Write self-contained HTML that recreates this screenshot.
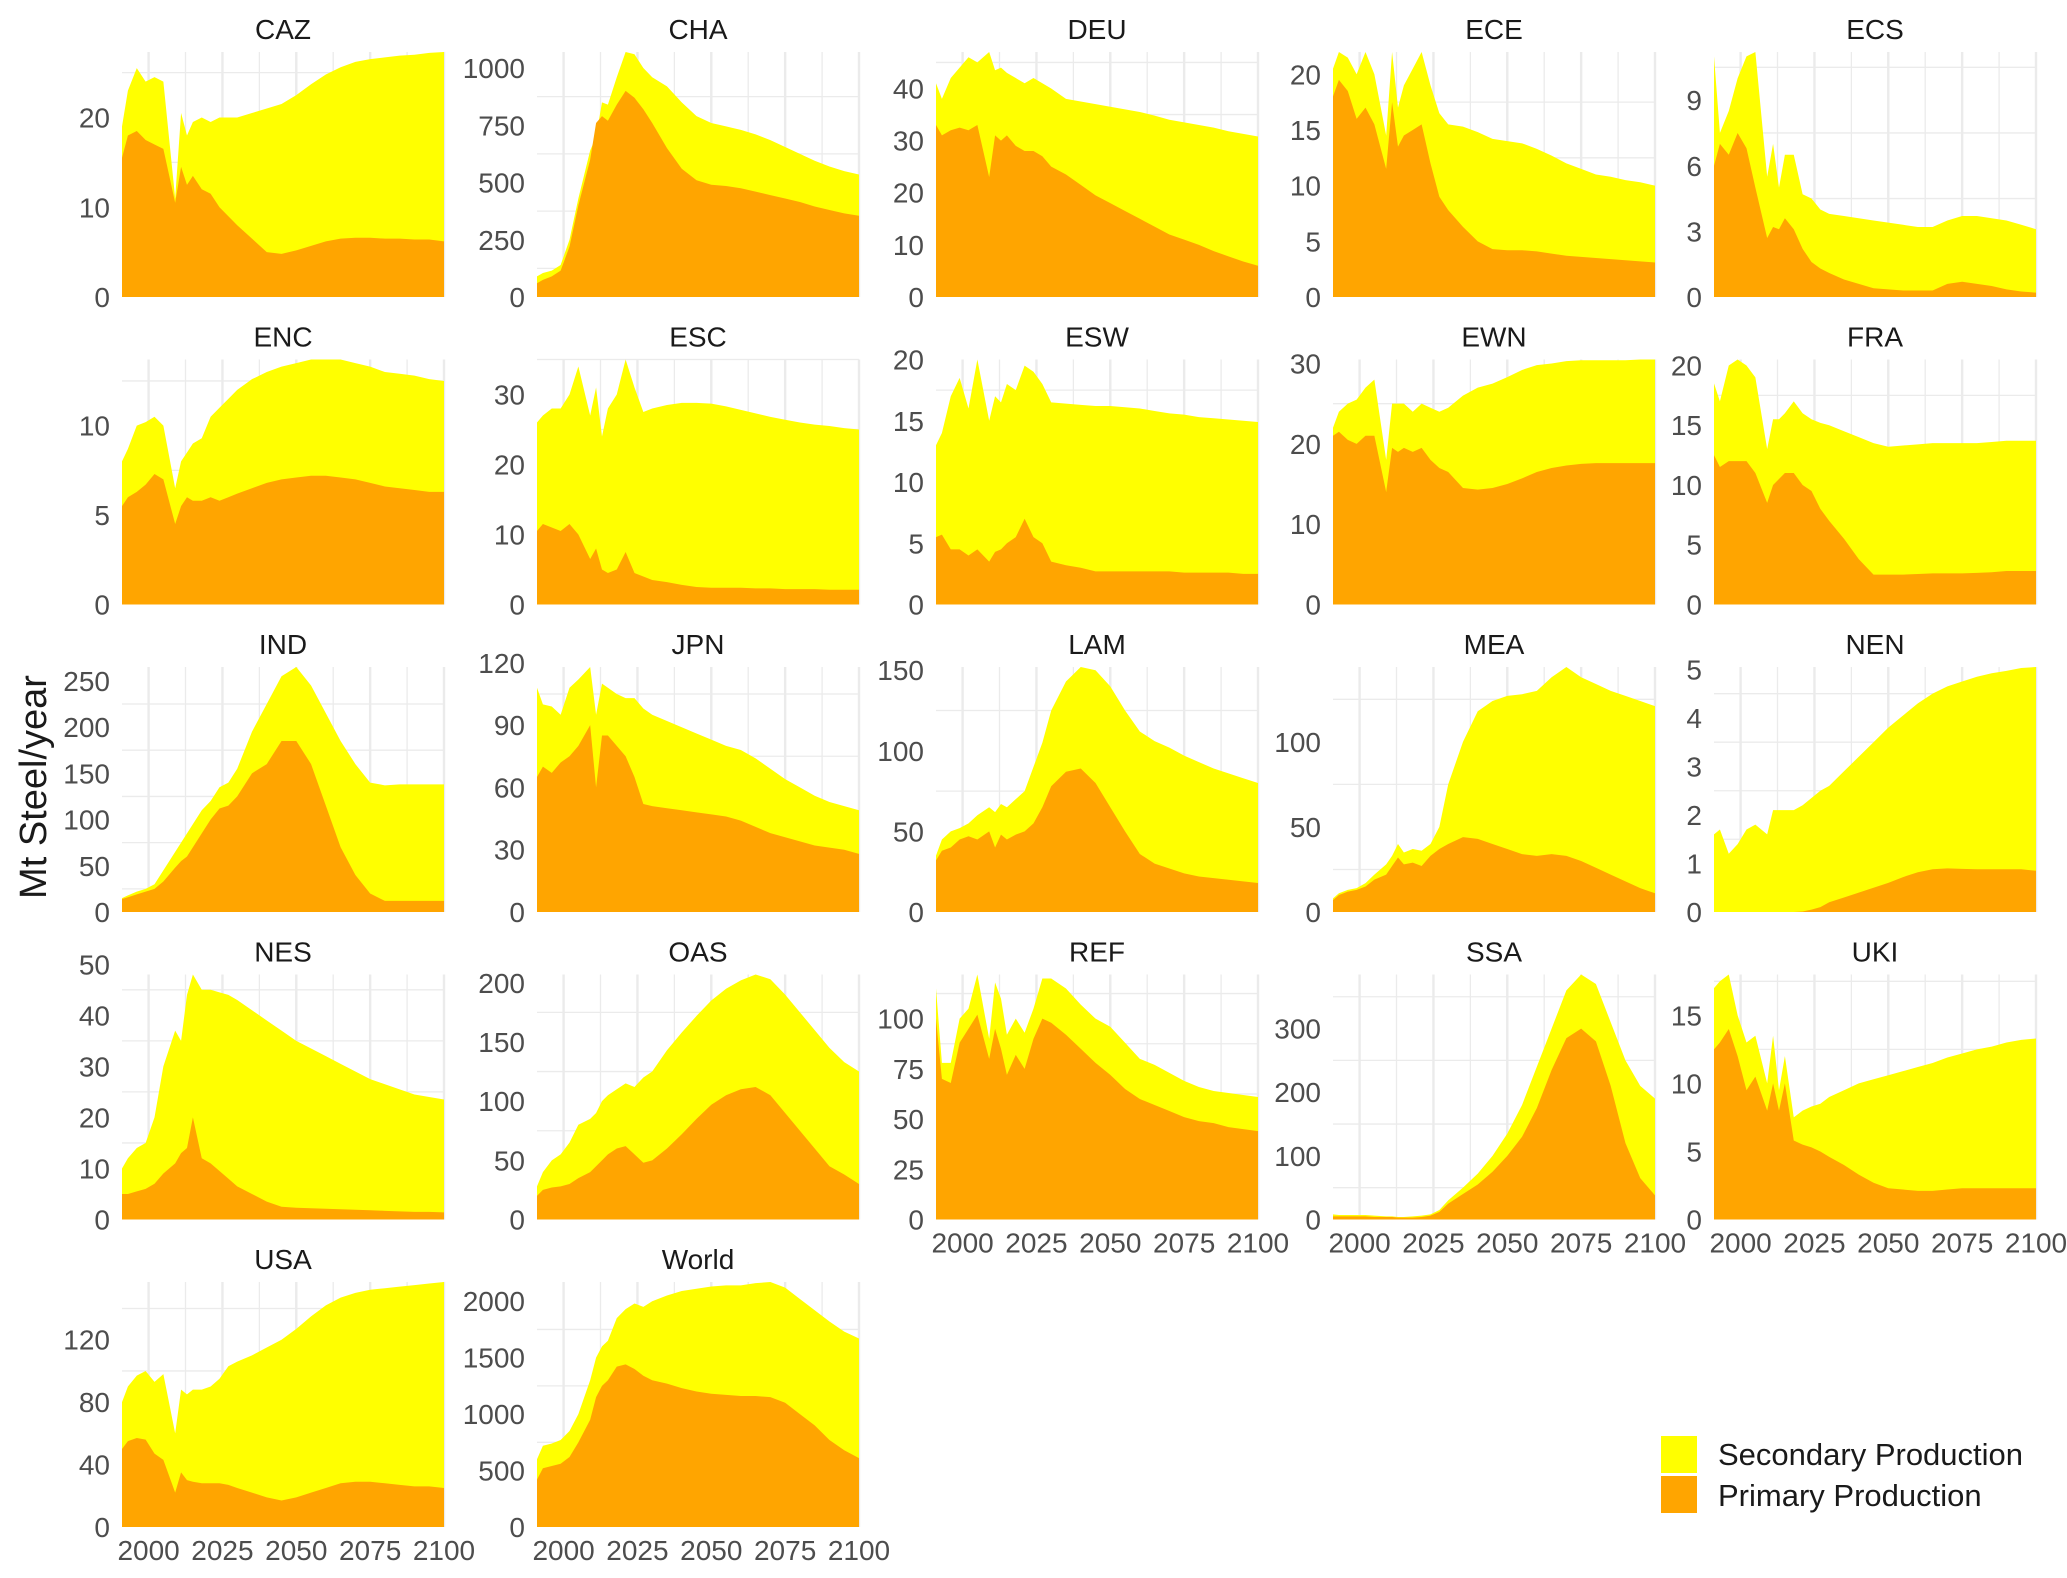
<!DOCTYPE html>
<html><head><meta charset="utf-8"><style>
html,body{margin:0;padding:0;background:#fff;}
svg{display:block;font-family:"Liberation Sans",sans-serif;}
</style></head><body>
<svg id="chart" xmlns="http://www.w3.org/2000/svg" width="2067" height="1578" viewBox="0 0 2067 1578">
<rect x="0" y="0" width="2067" height="1578" fill="#fff"/>
<text x="46" y="787" transform="rotate(-90 46 787)" text-anchor="middle" font-size="38" fill="#1a1a1a">Mt Steel/year</text>
</svg>
<script>
const years = [1991,1993,1996,1999,2002,2005,2009,2011,2013,2015,2018,2021,2024,2027,2030,2035,2040,2045,2050,2055,2060,2065,2070,2075,2080,2085,2090,2095,2100];
const regionNames = ["CAZ","CHA","DEU","ECE","ECS","ENC","ESC","ESW","EWN","FRA","IND","JPN","LAM","MEA","NEN","NES","OAS","REF","SSA","UKI","USA","World"];

const cazTotal = [19,23,25.5,24,24.5,24,11,20.5,18,19.5,20,19.5,20,20,20,20.5,21,21.5,22.5,23.7,24.8,25.6,26.2,26.5,26.7,26.9,27,27.2,27.3];
const cazPrimary = [15.5,18,18.5,17.5,17,16.5,10.5,14.5,12.5,13.5,12,11.5,10,9,8,6.5,5,4.8,5.2,5.7,6.2,6.5,6.6,6.6,6.5,6.5,6.4,6.4,6.2];
const chaTotal = [90,105,115,140,250,430,640,700,850,840,960,1070,1060,1000,960,920,850,790,760,745,730,710,685,655,625,595,570,550,535];
const chaPrimary = [60,75,90,115,220,400,600,760,790,770,840,900,870,820,760,650,560,510,490,485,475,460,445,430,415,395,380,365,355];
const deuTotal = [41,38,42,44,46,45,47,43.5,44,43,42,41,42,41,40,38,37.5,37,36.5,36,35.5,34.8,34,33.5,33,32.5,31.8,31.3,30.8];
const deuPrimary = [33,31,32,32.5,32,33,23,31,30,31,29,28,28,27,25,23.5,21.5,19.5,18,16.5,15,13.5,12,11,10,8.8,7.8,6.8,6];
const eceTotal = [20.5,22,21.5,20,22,20,14.5,22,17,19,20.5,22,19,16.5,15.5,15.3,14.8,14.2,14,13.8,13.3,12.7,12,11.5,11,10.8,10.5,10.3,10];
const ecePrimary = [18,19.5,18.5,16,17,15.5,11.5,17.5,13.5,14.5,15,15.5,12,9,7.8,6.3,5,4.3,4.2,4.2,4.1,3.9,3.7,3.6,3.5,3.4,3.3,3.2,3.1];
const ecsTotal = [11,7.5,8.5,10,11,11.2,5.5,7,5,6.5,6.5,4.7,4.5,4,3.8,3.7,3.6,3.5,3.4,3.3,3.2,3.2,3.5,3.7,3.7,3.6,3.5,3.3,3.1];
const ecsPrimary = [6,7,6.5,7.5,6.8,5,2.7,3.2,3.1,3.6,3.1,2.2,1.6,1.3,1.1,0.8,0.6,0.4,0.35,0.3,0.3,0.3,0.6,0.7,0.6,0.5,0.35,0.25,0.2];
const encTotal = [8,8.7,10,10.2,10.5,10,6.5,8,8.5,9,9.3,10.5,11,11.5,12,12.6,13,13.3,13.5,13.7,13.7,13.7,13.5,13.3,13,12.9,12.8,12.6,12.5];
const encPrimary = [5.5,6,6.3,6.7,7.3,7,4.5,5.5,6,5.8,5.8,6,5.8,6,6.2,6.5,6.8,7,7.1,7.2,7.2,7.1,7,6.8,6.6,6.5,6.4,6.3,6.3];
const escTotal = [26,27,28,28,30,34,27,31,24,28,30,35,31,27.5,28,28.5,28.8,28.8,28.7,28.3,27.8,27.3,26.8,26.4,26,25.7,25.5,25.2,25];
const escPrimary = [10.5,11.5,11,10.5,11.5,10,6.5,8,5,4.5,5,7.5,4.5,4,3.5,3.2,2.8,2.5,2.4,2.4,2.4,2.3,2.3,2.2,2.2,2.2,2.1,2.1,2.1];
const eswTotal = [13,14,17,18.5,16,20,15,17,16.5,18,17.5,19.5,19,18,16.5,16.4,16.3,16.2,16.2,16.1,16,15.8,15.6,15.5,15.3,15.2,15.1,15,14.9];
const eswPrimary = [5.5,5.7,4.5,4.5,4,4.5,3.5,4.3,4.5,5,5.5,7,5.5,5,3.5,3.2,3,2.7,2.7,2.7,2.7,2.7,2.7,2.6,2.6,2.6,2.6,2.5,2.5];
const ewnTotal = [22,24,25,25.5,27,28,18,25,25,25,24,25,24.5,24,24.5,26,27,27.5,28.3,29.2,29.8,30,30.3,30.4,30.4,30.4,30.4,30.5,30.5];
const ewnPrimary = [21,21.5,20.5,20,21,21,14,19.5,19,19.5,19,19.5,18,17,16.5,14.5,14.3,14.5,15,15.7,16.5,17,17.3,17.5,17.6,17.6,17.6,17.6,17.6];
const fraTotal = [18.5,17,20,20.5,20,19,13,15.5,15.5,16,17,16,15.5,15.2,15,14.5,14,13.5,13.2,13.3,13.4,13.5,13.5,13.5,13.5,13.6,13.7,13.7,13.7];
const fraPrimary = [12.5,11.5,12,12,12,11,8.5,10,10.5,11,11,10,9.5,8,7,5.5,3.8,2.5,2.5,2.5,2.55,2.6,2.6,2.6,2.65,2.7,2.8,2.8,2.8];
const indTotal = [15,18,22,25,30,45,65,75,85,95,110,120,135,140,155,195,225,255,265,245,215,185,160,140,137,138,138,138,138];
const indPrimary = [14,16,19,22,25,33,48,55,60,70,85,100,112,115,125,150,160,185,185,160,115,70,40,20,12,12,12,12,12];
const jpnTotal = [108,100,99,95,108,112,118,95,110,108,105,103,103,98,95,92,89,86,83,80,78,74,69,64,60,56,53,51,49];
const jpnPrimary = [65,70,67,72,75,80,90,60,85,85,80,75,65,52,51,50,49,48,47,46,44,41,38,36,34,32,31,30,28];
const lamTotal = [35,45,50,52,55,60,65,62,67,65,70,75,90,105,125,143,152,150,140,125,112,106,102,97,93,89,86,83,80];
const lamPrimary = [32,38,40,45,47,45,50,40,48,45,48,50,55,65,78,87,89,80,65,50,36,30,27,24,22,21,20,19,18];
const meaTotal = [8,11,13,14,17,22,28,33,40,35,37,36,40,50,75,100,118,124,127,128,130,138,144,138,134,130,127,124,121];
const meaPrimary = [7,10,12,13,15,19,22,27,32,28,29,27,33,37,40,44,43,40,37,34,33,34,33,30,26,22,18,14,11];
const nenTotal = [1.6,1.7,1.2,1.4,1.7,1.8,1.6,2.1,2.1,2.1,2.1,2.2,2.35,2.5,2.6,2.9,3.2,3.5,3.8,4.05,4.3,4.5,4.65,4.75,4.85,4.92,4.97,5.03,5.05];
const nenPrimary = [0,0,0,0,0,0,0,0,0,0,0,0.01,0.05,0.1,0.2,0.3,0.4,0.5,0.6,0.72,0.82,0.88,0.9,0.89,0.88,0.88,0.88,0.88,0.85];
const nesTotal = [10,12,14,15,20,30,37,35,44,48,45,45,44.5,44,43,41,39,37,35,33.5,32,30.5,29,27.5,26.5,25.5,24.5,24,23.5];
const nesPrimary = [5,5,5.5,6,7,9,11,13,14,20,12,11,9.5,8,6.5,5,3.5,2.5,2.3,2.2,2.1,2,1.9,1.8,1.7,1.6,1.5,1.5,1.4];
const oasTotal = [28,40,50,55,65,80,85,90,100,105,110,115,112,120,125,143,158,172,185,195,202,207,203,190,175,160,145,133,125];
const oasPrimary = [20,25,27,28,30,35,40,45,50,55,60,62,55,48,50,60,72,85,97,105,110,112,105,90,75,60,45,38,30];
const refTotal = [115,78,78,100,105,122,90,118,110,92,100,93,105,120,120,115,107,100,96,88,80,77,73,69,66,64,63,62,61];
const refPrimary = [100,70,68,88,95,102,80,95,85,72,82,75,90,100,98,92,85,78,72,65,60,57,54,51,49,48,46,45,44];
const ssaTotal = [8,7,7,7,7,6,5,5,4,4,5,6,8,15,30,50,72,100,135,180,240,300,360,385,370,310,250,210,190];
const ssaPrimary = [5,5,5,5,5,4,4,4,3,3,3,4,6,12,25,40,55,75,100,130,175,235,285,300,280,210,120,65,38];
const ukiTotal = [17,17.5,18,15,13,13.5,10,13.5,9.5,12,7.5,8,8.3,8.5,9,9.5,10,10.3,10.6,10.9,11.2,11.5,11.9,12.2,12.5,12.7,13,13.2,13.3];
const ukiPrimary = [12.5,13,14,12,9.5,10.5,8,10,8,10,5.8,5.5,5.3,5,4.6,4,3.3,2.7,2.3,2.2,2.1,2.1,2.2,2.3,2.3,2.3,2.3,2.3,2.3];
const usaTotal = [80,90,97,100,93,98,60,88,85,88,88,90,95,103,106,110,115,120,127,135,142,147,150,152,153,154,155,156,157];
const usaPrimary = [50,55,57,56,47,43,22,35,30,29,28,28,28,27,25,22,19,17,19,22,25,28,29,29,28,27,26,26,25];
const worldTotal = [600,720,740,770,850,1000,1300,1500,1600,1650,1850,1930,1980,1950,2000,2050,2090,2110,2130,2140,2140,2160,2170,2120,2020,1920,1820,1730,1670];
const worldPrimary = [420,520,540,560,620,750,950,1150,1250,1300,1420,1440,1400,1340,1300,1270,1230,1200,1180,1170,1160,1160,1150,1100,1000,900,770,680,610];

const yTicks = [[0,10,20],[0,250,500,750,1000],[0,10,20,30,40],[0,5,10,15,20],[0,3,6,9],[0,5,10],[0,10,20,30],[0,5,10,15,20],[0,10,20,30],[0,5,10,15,20],[0,50,100,150,200,250],[0,30,60,90,120],[0,50,100,150],[0,50,100],[0,1,2,3,4,5],[0,10,20,30,40,50],[0,50,100,150,200],[0,25,50,75,100],[0,100,200,300],[0,5,10,15],[0,40,80,120],[0,500,1000,1500,2000]];
const xTicks = [2000,2025,2050,2075,2100];

const totals = [cazTotal,chaTotal,deuTotal,eceTotal,ecsTotal,encTotal,escTotal,eswTotal,ewnTotal,fraTotal,indTotal,jpnTotal,lamTotal,meaTotal,nenTotal,nesTotal,oasTotal,refTotal,ssaTotal,ukiTotal,usaTotal,worldTotal];
const primaries = [cazPrimary,chaPrimary,deuPrimary,ecePrimary,ecsPrimary,encPrimary,escPrimary,eswPrimary,ewnPrimary,fraPrimary,indPrimary,jpnPrimary,lamPrimary,meaPrimary,nenPrimary,nesPrimary,oasPrimary,refPrimary,ssaPrimary,ukiPrimary,usaPrimary,worldPrimary];

const NS = "http://www.w3.org/2000/svg";
const svg = document.getElementById("chart");
const colLeft = [122,537,936,1333,1714];
const PW = 322, PH = 245;
const X0 = 1991, X1 = 2100;
function mk(tag, attrs, parent){
  const e = document.createElementNS(NS, tag);
  for (const k in attrs) e.setAttribute(k, attrs[k]);
  parent.appendChild(e);
  return e;
}
regionNames.forEach(function(name, i){
  const r = Math.floor(i/5), c = i%5;
  const left = colLeft[c], top = 52 + r*307.5, bottom = top + PH;
  const tot = totals[i], pri = primaries[i];
  const ymax = Math.max.apply(null, tot);
  const xs = function(y){ return left + (y - X0)/(X1 - X0)*PW; };
  const ys = function(v){ return bottom - v/ymax*PH; };
  const g = mk("g", {}, svg);
  
  
  const ticks = yTicks[i];
  const step = ticks[1] - ticks[0];
  for (let v = step/2; v <= ymax; v += step){
    const minor = Math.abs((v/step) - Math.round(v/step)) > 0.25;
    const ln = mk("line", {x1:left, x2:left+PW, y1:ys(v), y2:ys(v), stroke:"#ebebeb", "stroke-width": minor ? 1.3 : 2.4}, g);
    
    
  }
  for (let yr = 1987.5; yr <= 2100.01; yr += 12.5){
    if (yr < X0) continue;
    const minor = (yr % 25) !== 0;
    const ln = mk("line", {x1:xs(yr), x2:xs(yr), y1:top, y2:bottom, stroke:"#ebebeb", "stroke-width": minor ? 1.3 : 2.4}, g);
    
    
  }
  const n = Math.min(years.length, tot.length, pri.length);
  let dT = "M" + xs(years[0]) + "," + bottom;
  let dP = dT;
  for (let k = 0; k < n; k++){
    dT += " L" + xs(years[k]).toFixed(2) + "," + ys(tot[k]).toFixed(2);
    dP += " L" + xs(years[k]).toFixed(2) + "," + ys(pri[k]).toFixed(2);
  }
  dT += " L" + xs(years[n-1]) + "," + bottom + " Z";
  dP += " L" + xs(years[n-1]) + "," + bottom + " Z";
  const aT = mk("path", {d:dT, fill:"#ffff00"}, g);
  
  
  const aP = mk("path", {d:dP, fill:"#ffa500"}, g);
  
  
  const t = mk("text", {x:left+PW/2, y:top-13, "text-anchor":"middle", "font-size":28, fill:"#1a1a1a"}, g);
  t.textContent = name;
  
  
  ticks.forEach(function(v){
    const tl = mk("text", {x:left-12, y:ys(v)+10, "text-anchor":"end", "font-size":28, fill:"#4d4d4d"}, g);
    tl.textContent = String(v);
    
    
  });
  if (r === 4 || (r === 3 && c >= 2)){
    xTicks.forEach(function(yr){
      const xl = mk("text", {x:xs(yr), y:bottom+33, "text-anchor":"middle", "font-size":28, fill:"#4d4d4d"}, g);
      xl.textContent = String(yr);
      
      
    });
  }
});
const lg = mk("g", {}, svg);


const k1 = mk("rect", {x:1661, y:1436, width:36, height:37, fill:"#ffff00"}, lg);


const k2 = mk("rect", {x:1661, y:1476, width:36, height:37, fill:"#ffa500"}, lg);


const l1 = mk("text", {x:1718, y:1465, "font-size":31, fill:"#1a1a1a"}, lg);
l1.textContent = "Secondary Production";


const l2 = mk("text", {x:1718, y:1506, "font-size":31, fill:"#1a1a1a"}, lg);
l2.textContent = "Primary Production";


</script>
</body></html>
